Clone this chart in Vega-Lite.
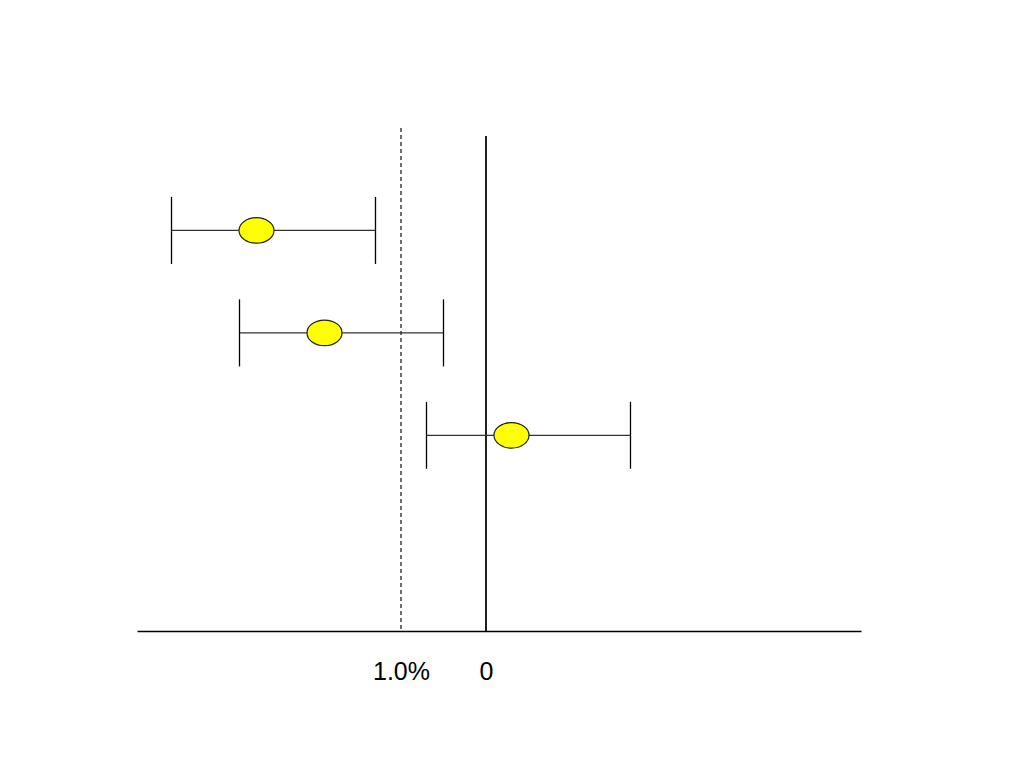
{
  "$schema": "https://vega.github.io/schema/vega-lite/v6.json",
  "width": 724,
  "height": 503,
  "autosize": {"type": "none"},
  "padding": {"left": 137, "top": 128, "right": 163, "bottom": 137},
  "background": "white",
  "config": {"view": {"stroke": null}},
  "data": {
    "values": [
      {"study": 1, "low": -3.7, "est": -2.7, "high": -1.3},
      {"study": 2, "low": -2.9, "est": -1.9, "high": -0.5},
      {"study": 3, "low": -0.7, "est": 0.3, "high": 1.7}
    ]
  },
  "encoding": {
    "y": {"field": "study", "type": "quantitative", "scale": {"domain": [0, 4.91], "reverse": true, "nice": false, "zero": false}, "axis": null}
  },
  "layer": [
    {
      "mark": {"type": "rule", "color": "#666666", "strokeWidth": 1.2, "strokeDash": [4, 3]},
      "encoding": {
        "x": {"datum": -1, "type": "quantitative",
          "scale": {"domain": [-4.106, 4.412], "nice": false, "zero": false},
          "axis": {"values": [-1, 0], "labelExpr": "datum.value == 0 ? '0' : '1.0%'", "grid": false, "ticks": false, "tickSize": 0, "domainColor": "black", "domainWidth": 1.3, "labelFont": "Liberation Sans", "labelFontSize": 25, "labelColor": "black", "labelBaseline": "alphabetic", "labelPadding": 48, "labelDx": -3, "title": null}
        },
        "y": {"datum": 0},
        "y2": {"datum": 4.91}
      }
    },
    {
      "mark": {"type": "rule", "color": "black", "strokeWidth": 1},
      "encoding": {
        "x": {"datum": 0, "type": "quantitative"},
        "y": {"datum": 0.078},
        "y2": {"datum": 4.91}
      }
    },
    {
      "mark": {"type": "rule", "color": "#333333", "strokeWidth": 1.2},
      "encoding": {
        "x": {"field": "low", "type": "quantitative"},
        "x2": {"field": "high"}
      }
    },
    {
      "mark": {"type": "tick", "orient": "vertical", "color": "black", "thickness": 1.3, "size": 67, "opacity": 1},
      "encoding": {"x": {"field": "low", "type": "quantitative"}}
    },
    {
      "mark": {"type": "tick", "orient": "vertical", "color": "black", "thickness": 1.3, "size": 67, "opacity": 1},
      "encoding": {"x": {"field": "high", "type": "quantitative"}}
    },
    {
      "mark": {"type": "point", "shape": "M-1,0A1,0.73,0,1,1,1,0A1,0.73,0,1,1,-1,0Z", "size": 1225, "filled": true, "fill": "#FFFF00", "stroke": "#222222", "strokeWidth": 1.2, "opacity": 1},
      "encoding": {"x": {"field": "est", "type": "quantitative"}}
    }
  ]
}
